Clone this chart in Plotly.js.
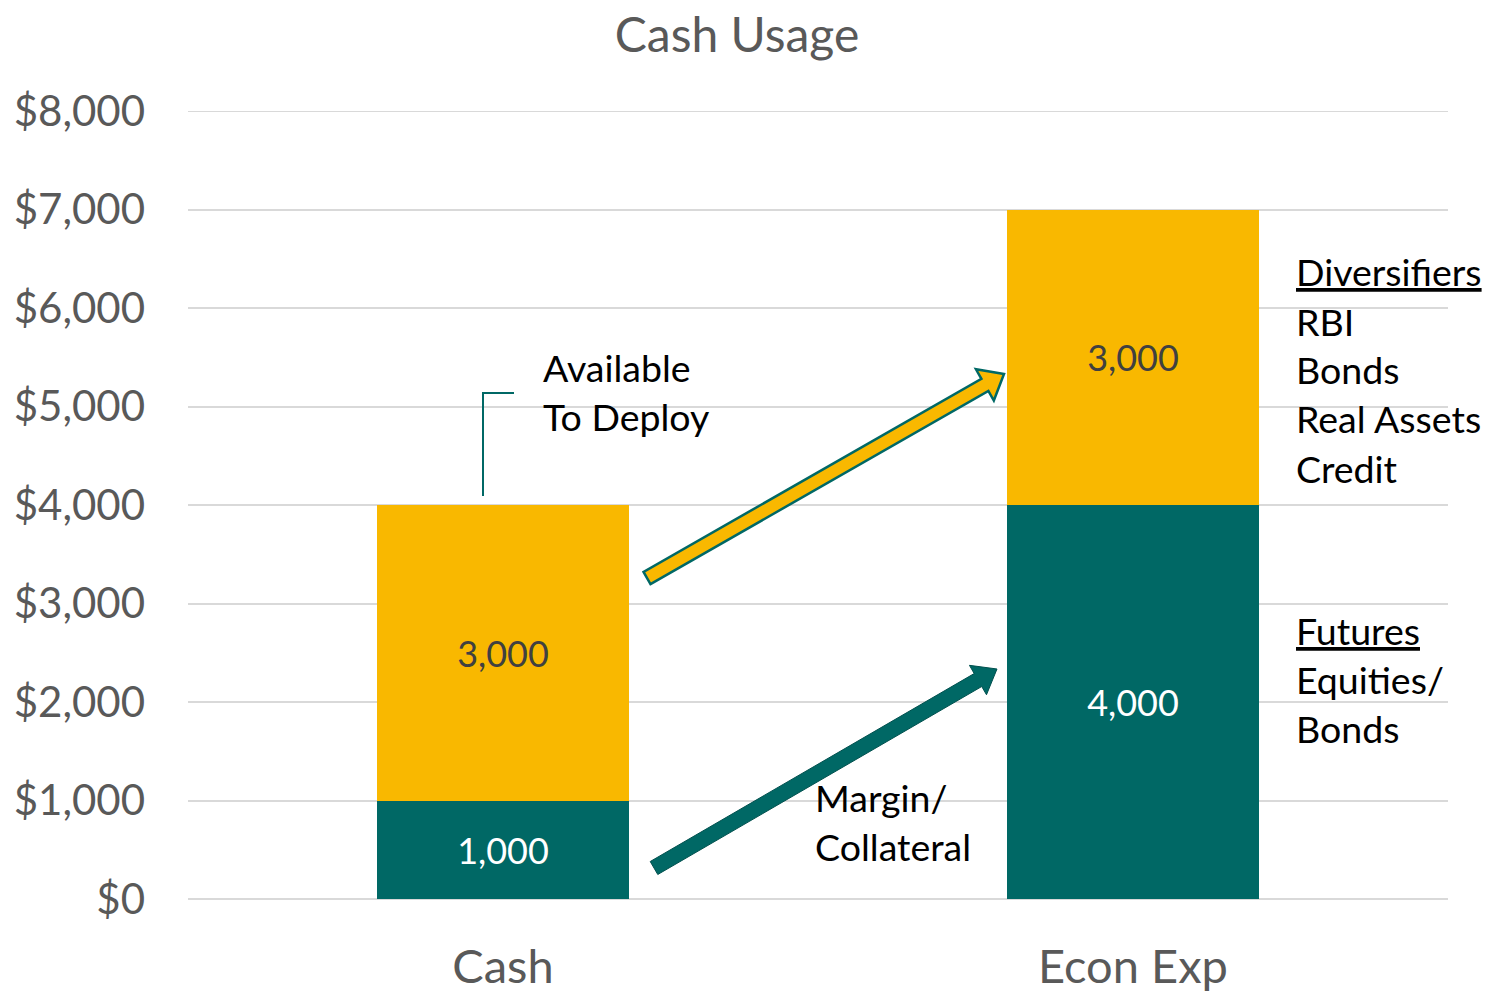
<!DOCTYPE html>
<html>
<head>
<meta charset="utf-8">
<script src="https://cdn.plot.ly/plotly-3.0.1.min.js"></script>
<style>
  html, body { margin: 0; padding: 0; background: #fff; }
  #myDiv { width: 1486px; height: 992px; }
</style>
</head>
<body>
<div id="myDiv"></div>
<script>
var categories = ['Cash', 'Econ Exp'];
var collateral = [1000, 4000];
var deployable = [3000, 3000];
var yTicks = [0, 1000, 2000, 3000, 4000, 5000, 6000, 7000, 8000];
var yTickText = ['$0', '$1,000', '$2,000', '$3,000', '$4,000', '$5,000', '$6,000', '$7,000', '$8,000'];

var TEAL = 'rgb(0,104,101)';
var GOLD = 'rgb(249,184,0)';
var FONT = 'Lato, "Open Sans", sans-serif';

// plot area in pixels, used to place the drawn decorations
var L = 188, R = 1448, T = 111, B = 899;
function px(x) { return (x - L) / (R - L); }
function py(y) { return (B - y) / (B - T); }

function arrowPath(tx, ty, hx, hy, w, hw, hl) {
  var dx = hx - tx, dy = hy - ty;
  var len = Math.sqrt(dx * dx + dy * dy);
  var ux = dx / len, uy = dy / len;
  var nx = -uy, ny = ux;
  var bx = hx - ux * hl, by = hy - uy * hl;
  var pts = [
    [tx + nx * w, ty + ny * w],
    [bx + nx * w, by + ny * w],
    [bx + nx * hw, by + ny * hw],
    [hx, hy],
    [bx - nx * hw, by - ny * hw],
    [bx - nx * w, by - ny * w],
    [tx - nx * w, ty - ny * w]
  ];
  return 'M ' + pts.map(function (p) { return px(p[0]).toFixed(5) + ',' + py(p[1]).toFixed(5); }).join(' L ') + ' Z';
}

var trace1 = {
  x: categories,
  y: collateral,
  type: 'bar',
  name: 'Margin/Collateral',
  marker: { color: TEAL },
  texttemplate: '%{y:,}',
  textposition: 'inside',
  insidetextanchor: 'middle',
  textfont: { color: '#ffffff', size: 36, family: FONT },
  hoverinfo: 'x+y'
};

var trace2 = {
  x: categories,
  y: deployable,
  type: 'bar',
  name: 'Available To Deploy',
  marker: { color: GOLD },
  texttemplate: '%{y:,}',
  textposition: 'inside',
  insidetextanchor: 'middle',
  textfont: { color: '#404040', size: 36, family: FONT },
  hoverinfo: 'x+y'
};

function label(text, x, y) {
  return {
    xref: 'paper', yref: 'paper', x: px(x), y: py(y),
    xanchor: 'left', yanchor: 'middle', showarrow: false,
    text: text, font: { family: FONT, size: 37.5, color: '#000000' }
  };
}

var annotations = [
  label('Available', 541, 367),
  label('To Deploy', 541, 416),
  label('Margin/', 813, 797),
  label('Collateral', 813, 846),
  label('<u>Diversifiers</u>', 1294, 271),
  label('RBI', 1294, 321),
  label('Bonds', 1294, 370),
  label('Real Assets', 1294, 419),
  label('Credit', 1294, 468),
  label('<u>Futures</u>', 1294, 630),
  label('Equities/', 1294, 679),
  label('Bonds', 1294, 728)
];

var shapes = [
  // top gridline sits on the range edge, so draw it as a shape
  {
    type: 'line', xref: 'paper', yref: 'y', x0: 0, x1: 1, y0: yTicks[yTicks.length - 1], y1: yTicks[yTicks.length - 1],
    line: { color: '#d9d9d9', width: 2 }, layer: 'below'
  },
  {
    type: 'path', xref: 'paper', yref: 'paper',
    path: 'M ' + px(483) + ',' + py(496) + ' L ' + px(483) + ',' + py(393) + ' L ' + px(514) + ',' + py(393),
    line: { color: TEAL, width: 2 }
  },
  {
    type: 'path', xref: 'paper', yref: 'paper',
    path: arrowPath(647, 578, 1004, 374, 7, 18, 22),
    fillcolor: GOLD, line: { color: TEAL, width: 2.5 }
  },
  {
    type: 'path', xref: 'paper', yref: 'paper',
    path: arrowPath(654, 868, 997, 669, 7.5, 17, 22),
    fillcolor: TEAL, line: { color: 'rgb(0,80,78)', width: 1 }
  }
];

var layout = {
  width: 1486,
  height: 992,
  title: {
    text: 'Cash Usage',
    font: { family: FONT, size: 48, color: '#595959' },
    x: 0.496, xanchor: 'center', y: 0.965, yanchor: 'middle'
  },
  barmode: 'stack',
  bargap: 0.6,
  showlegend: false,
  margin: { l: L, r: 1486 - R, t: T, b: 992 - B },
  paper_bgcolor: '#ffffff',
  plot_bgcolor: '#ffffff',
  font: { family: FONT },
  xaxis: {
    tickfont: { family: FONT, size: 47, color: '#595959' },
    showgrid: false,
    showline: false,
    ticks: '',
    ticklabelstandoff: 36
  },
  yaxis: {
    range: [0, 8000],
    tickvals: yTicks,
    ticktext: yTickText,
    tickfont: { family: FONT, size: 42, color: '#595959' },
    gridcolor: '#d9d9d9',
    gridwidth: 2,
    zeroline: true,
    zerolinecolor: '#d9d9d9',
    zerolinewidth: 2,
    ticks: '',
    ticklen: 0,
    ticklabelstandoff: 42
  },
  annotations: annotations,
  shapes: shapes
};

Plotly.newPlot('myDiv', [trace1, trace2], layout, { displayModeBar: false });
</script>
</body>
</html>
